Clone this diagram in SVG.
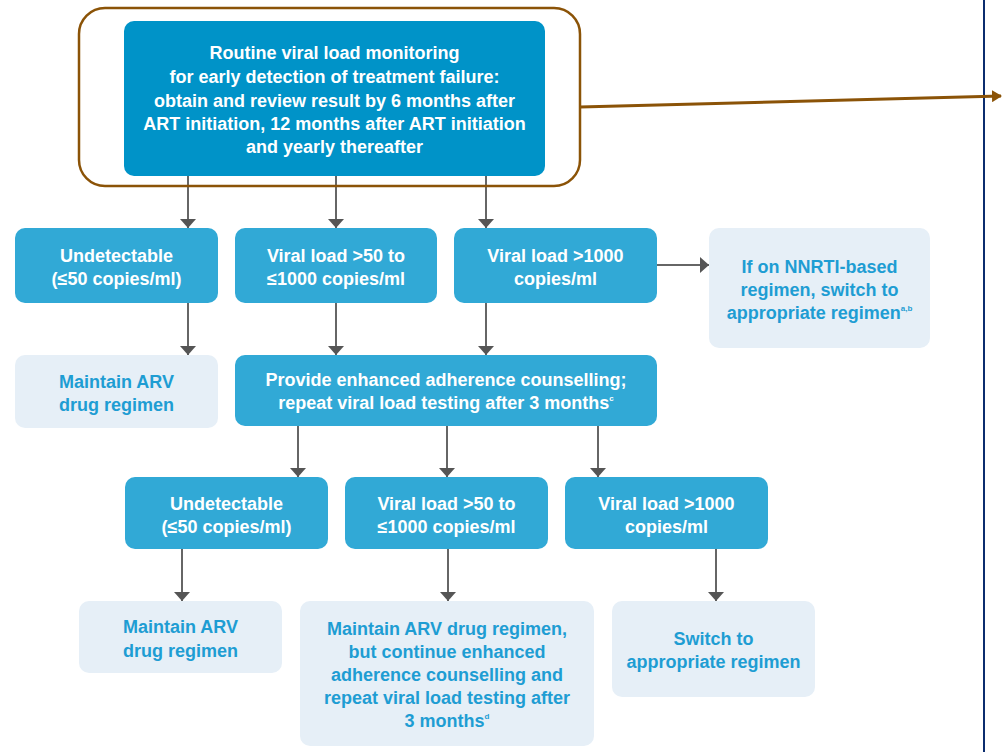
<svg xmlns="http://www.w3.org/2000/svg" width="1002" height="752" viewBox="0 0 1002 752">
<style>
.dark{fill:#0093C8}
.mid{fill:#31A9D6}
.light{fill:#E6EFF7}
.tw{font-family:"Liberation Sans",Arial,sans-serif;font-weight:bold;font-size:18px;fill:#FFFFFF;text-anchor:middle}
.tb{font-family:"Liberation Sans",Arial,sans-serif;font-weight:bold;font-size:18px;fill:#1E9DD3;text-anchor:middle}
.sup{font-size:8px}
.ar{stroke:#666666;stroke-width:2;fill:none;marker-end:url(#ah)}
</style>
<defs>
<marker id="ah" markerWidth="10" markerHeight="16" refX="9" refY="8" orient="auto" markerUnits="userSpaceOnUse">
<path d="M0,0 L9,8 L0,16 Z" fill="#555555"/>
</marker>
<marker id="bh" markerWidth="10" markerHeight="12" refX="9" refY="6" orient="auto" markerUnits="userSpaceOnUse">
<path d="M0,0 L10,6 L0,12 Z" fill="#8B5307"/>
</marker>
</defs>
<rect x="0" y="0" width="1002" height="752" fill="#FFFFFF"/>
<line x1="984" y1="0" x2="984" y2="752" stroke="#0B2C6E" stroke-width="2"/>

<g id="connectors">
<line class="ar" x1="188" y1="176" x2="188" y2="228"/>
<line class="ar" x1="336" y1="176" x2="336" y2="228"/>
<line class="ar" x1="486" y1="176" x2="486" y2="228"/>
<line class="ar" x1="657" y1="265" x2="709" y2="265"/>
<line class="ar" x1="188" y1="303" x2="188" y2="355"/>
<line class="ar" x1="336" y1="303" x2="336" y2="355"/>
<line class="ar" x1="486" y1="303" x2="486" y2="355"/>
<line class="ar" x1="298" y1="426" x2="298" y2="477"/>
<line class="ar" x1="447" y1="426" x2="447" y2="477"/>
<line class="ar" x1="598" y1="426" x2="598" y2="477"/>
<line class="ar" x1="182" y1="549" x2="182" y2="601"/>
<line class="ar" x1="448" y1="549" x2="448" y2="601"/>
<line class="ar" x1="716" y1="549" x2="716" y2="601"/>
<line x1="580" y1="107" x2="1001" y2="96" stroke="#8B5307" stroke-width="3" marker-end="url(#bh)"/>
</g>

<g id="n-outline">
<rect x="79" y="8" width="501" height="178" rx="26" ry="26" fill="none" stroke="#8B5307" stroke-width="2.5"/>
</g>

<g id="n-top">
<rect class="dark" x="124" y="21" width="421" height="155" rx="10"/>
<text class="tw" x="334.5" y="59">Routine viral load monitoring</text>
<text class="tw" x="334.5" y="83">for early detection of treatment failure:</text>
<text class="tw" x="334.5" y="107">obtain and review result by 6 months after</text>
<text class="tw" x="334.5" y="130">ART initiation, 12 months after ART initiation</text>
<text class="tw" x="334.5" y="153">and yearly thereafter</text>
</g>

<g id="n-undet1">
<rect class="mid" x="15" y="228" width="203" height="75" rx="10"/>
<text class="tw" x="116.5" y="262">Undetectable</text>
<text class="tw" x="116.5" y="285">(≤50 copies/ml)</text>
</g>
<g id="n-vl50-1">
<rect class="mid" x="235" y="228" width="202" height="75" rx="10"/>
<text class="tw" x="336" y="262">Viral load &gt;50 to</text>
<text class="tw" x="336" y="285">≤1000 copies/ml</text>
</g>
<g id="n-vl1000-1">
<rect class="mid" x="454" y="228" width="203" height="75" rx="10"/>
<text class="tw" x="555.5" y="262">Viral load &gt;1000</text>
<text class="tw" x="555.5" y="285">copies/ml</text>
</g>
<g id="n-nnrti">
<rect class="light" x="709" y="228" width="221" height="120" rx="10"/>
<text class="tb" x="819.5" y="273">If on NNRTI-based</text>
<text class="tb" x="819.5" y="296">regimen, switch to</text>
<text class="tb" x="819.5" y="319">appropriate regimen<tspan class="sup" dy="-8">a,b</tspan></text>
</g>

<g id="n-maintain1">
<rect class="light" x="15" y="355" width="203" height="73" rx="10"/>
<text class="tb" x="116.5" y="388">Maintain ARV</text>
<text class="tb" x="116.5" y="411">drug regimen</text>
</g>
<g id="n-provide">
<rect class="mid" x="235" y="355" width="422" height="71" rx="10"/>
<text class="tw" x="446" y="386">Provide enhanced adherence counselling;</text>
<text class="tw" x="446" y="409">repeat viral load testing after 3 months<tspan class="sup" dy="-8">c</tspan></text>
</g>

<g id="n-undet2">
<rect class="mid" x="125" y="477" width="203" height="72" rx="10"/>
<text class="tw" x="226.5" y="510">Undetectable</text>
<text class="tw" x="226.5" y="533">(≤50 copies/ml)</text>
</g>
<g id="n-vl50-2">
<rect class="mid" x="345" y="477" width="203" height="72" rx="10"/>
<text class="tw" x="446.5" y="510">Viral load &gt;50 to</text>
<text class="tw" x="446.5" y="533">≤1000 copies/ml</text>
</g>
<g id="n-vl1000-2">
<rect class="mid" x="565" y="477" width="203" height="72" rx="10"/>
<text class="tw" x="666.5" y="510">Viral load &gt;1000</text>
<text class="tw" x="666.5" y="533">copies/ml</text>
</g>

<g id="n-maintain2">
<rect class="light" x="79" y="601" width="203" height="72" rx="10"/>
<text class="tb" x="180.5" y="633">Maintain ARV</text>
<text class="tb" x="180.5" y="657">drug regimen</text>
</g>
<g id="n-maintain3">
<rect class="light" x="300" y="601" width="294" height="145" rx="10"/>
<text class="tb" x="447" y="635">Maintain ARV drug regimen,</text>
<text class="tb" x="447" y="658">but continue enhanced</text>
<text class="tb" x="447" y="681">adherence counselling and</text>
<text class="tb" x="447" y="704">repeat viral load testing after</text>
<text class="tb" x="447" y="727">3 months<tspan class="sup" dy="-8">d</tspan></text>
</g>
<g id="n-switch">
<rect class="light" x="612" y="601" width="203" height="96" rx="10"/>
<text class="tb" x="713.5" y="645">Switch to</text>
<text class="tb" x="713.5" y="668">appropriate regimen</text>
</g>
</svg>
